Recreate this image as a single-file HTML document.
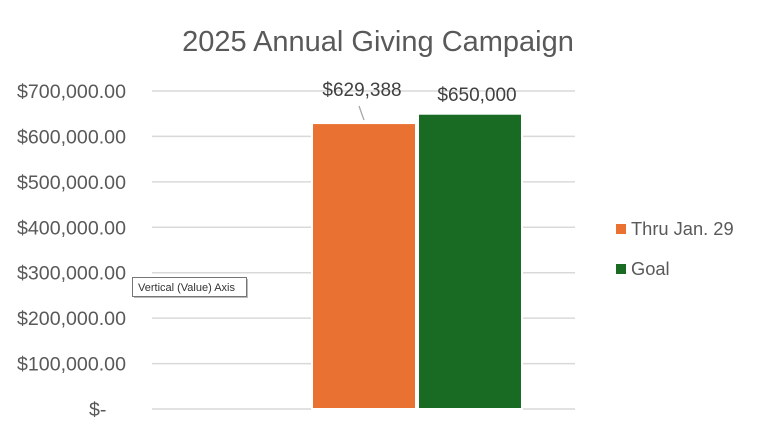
<!DOCTYPE html>
<html><head><meta charset="utf-8"><style>
body{margin:0;background:#fff;}
svg{display:block;font-family:"Liberation Sans",sans-serif;}
</style></head><body>
<svg width="757" height="430">
<rect x="0" y="0" width="757" height="430" fill="#fff"/>
<text x="378" y="51" font-size="29" fill="#595959" text-anchor="middle">2025 Annual Giving Campaign</text>
<g id="grid"></g><g id="ylabels"></g><g id="bars"></g><g id="legend"></g>
<g>
<rect x="134" y="279" width="114" height="19" fill="#bbb"/>
<rect x="132.5" y="277.5" width="114" height="19" fill="#fff" stroke="#767676"/>
<text x="138" y="291" font-size="11" fill="#333">Vertical (Value) Axis</text>
</g>
</svg>
<script>
const categories=["Thru Jan. 29","Goal"];
const values=[629388,650000];
const valueLabels=["$629,388","$650,000"];
const colors=["#E97132","#196B24"];
const ticks=[0,100000,200000,300000,400000,500000,600000,700000];
const tickLabels=["$-","$100,000.00","$200,000.00","$300,000.00","$400,000.00","$500,000.00","$600,000.00","$700,000.00"];
const NS="http://www.w3.org/2000/svg";
const y0=409,yTop=91,maxV=700000;
const y=v=>y0-(v/maxV)*(y0-yTop);
function mk(t,a,p){const e=document.createElementNS(NS,t);for(const k in a)e.setAttribute(k,a[k]);p.appendChild(e);return e;}
const g=document.getElementById('grid'),yl=document.getElementById('ylabels'),b=document.getElementById('bars'),lg=document.getElementById('legend');
ticks.forEach((t,i)=>{
 const l=mk('line',{x1:152,x2:575,y1:y(t),y2:y(t),stroke:'#d9d9d9','stroke-width':1.5},g);
 
 
 const tx=mk('text',{x:i==0?89:17,y:y(t)+7,'font-size':19.6,fill:'#595959'},yl);
 tx.textContent=tickLabels[i];
 
 
});
const bx=[312,418],bw=104;
values.forEach((v,i)=>{
 const r=mk('rect',{x:bx[i],y:y(v),width:bw,height:y0-y(v),fill:colors[i],stroke:'#fff','stroke-width':2},b);
 
 
 const lx=i==0?362:477, ly=i==0?96:101;
 const t=mk('text',{x:lx,y:ly,'font-size':19,fill:'#404040','text-anchor':'middle'},b);
 t.textContent=valueLabels[i];
 
 
 if(i==0){const ln=mk('line',{x1:359,y1:106,x2:364,y2:y(v)-3,stroke:'#a6a6a6','stroke-width':1.3},b);
  
  }
 const ly2=i==0?230:270;
 const s=mk('rect',{x:616,y:ly2-6,width:10,height:10,fill:colors[i]},lg);
 
 
 const lt=mk('text',{x:631,y:ly2+5,'font-size':18.3,fill:'#595959'},lg);
 lt.textContent=categories[i];
 
 
});
</script>
</body></html>
